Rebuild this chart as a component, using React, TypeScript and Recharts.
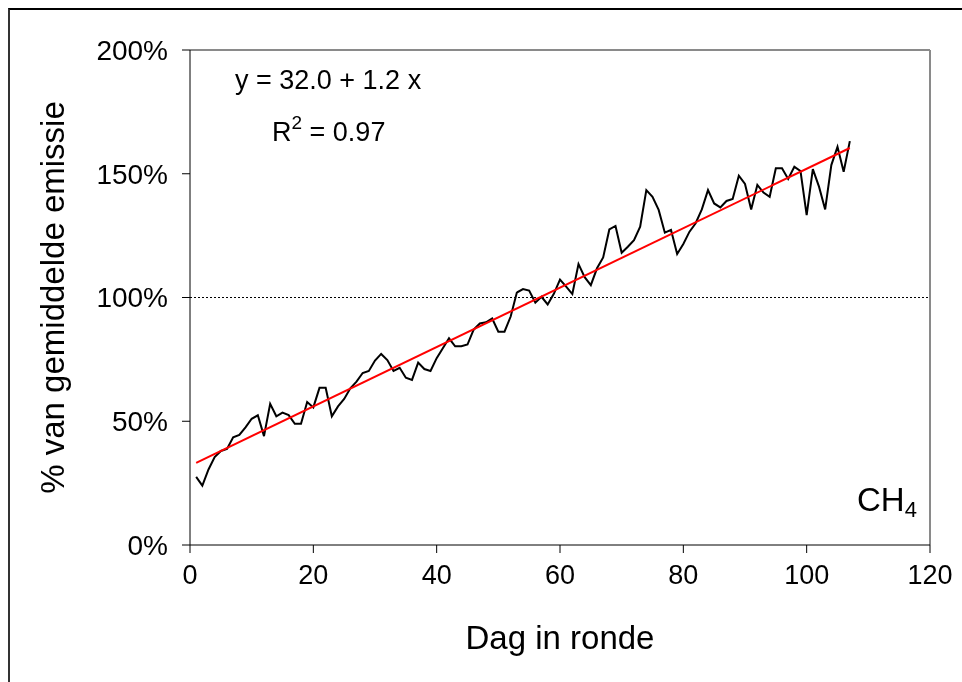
import { LineChart, Line, XAxis, YAxis, ReferenceLine } from "recharts";

const days = Array.from({ length: 107 }, (_, i) => i + 1);

const emission = [
  27.5, 24, 30.5, 35.5, 38, 38.8, 43.5, 44.5, 47.5, 51,
  52.4, 44, 57, 52, 53.5, 52.5, 49, 49, 57.8, 55.6,
  63.5, 63.5, 52, 56, 59, 63.3, 66, 69.5, 70.3, 74.5,
  77.2, 74.7, 70.3, 71.6, 67.6, 66.7, 73.7, 71.1, 70.3, 75.5,
  79.5, 83.5, 80.3, 80.3, 81, 87, 89.5, 90, 91.5, 86.2,
  86.2, 92.3, 102, 103.4, 102.8, 97.9, 100.3, 97.2, 101.5, 107.2,
  104.4, 101.4, 113.5, 108.2, 105, 111.8, 116.2, 127.5, 128.9, 118.1,
  120.5, 123.2, 128.6, 143.4, 140.7, 135.4, 126.2, 127.3, 117.6, 121.6,
  126.6, 130, 135.6, 143.4, 138, 136.4, 139, 139.8, 149.2, 145.9,
  135.6, 145.5, 142.4, 140.7, 152.2, 152.2, 147.9, 152.8, 151.1, 133.3,
  151.9, 144.8, 135.6, 153.5, 160.9, 150.8, 163.2,
];

// trend line end points (y = 32.0 + 1.2 x)
const fitDays = [1, 107];
const fitValues = [33.2, 160.4];

const xTicks = [0, 20, 40, 60, 80, 100, 120];
const yTicks = [0, 50, 100, 150, 200];

const rows = days.map((d, i) => {
  const k = fitDays.indexOf(d);
  return { day: d, emission: emission[i], fit: k >= 0 ? fitValues[k] : null };
});

const font = "'Liberation Sans', Arial, sans-serif";

export default function App() {
  return (
    <div style={{ position: "relative", width: 954, height: 666, fontFamily: font }}>
      {/* outer frame, fixed so it does not make the page scroll */}
      <div
        style={{
          position: "fixed",
          left: 8,
          top: 8,
          width: 960,
          height: 680,
          boxSizing: "border-box",
          borderTop: "2px solid #000",
          borderLeft: "2px solid #333",
        }}
      />
      <div style={{ position: "absolute", left: 0, top: 0 }}>
        <LineChart
          width={954}
          height={666}
          data={rows}
          margin={{ top: 42, right: 32, bottom: 0, left: 0 }}
        >
          <XAxis
            dataKey="day"
            type="number"
            domain={[0, 120]}
            ticks={xTicks}
            height={129}
            stroke="#000"
            tickSize={8}
            tickMargin={12}
            tick={{ fill: "#000", fontSize: 27, fontFamily: font }}
            label={{
              value: "Dag in ronde",
              position: "insideBottom",
              offset: 25,
              fill: "#000",
              fontSize: 33,
              fontFamily: font,
            }}
          />
          <YAxis
            type="number"
            domain={[0, 200]}
            ticks={yTicks}
            width={182}
            stroke="#000"
            tickSize={8}
            tickMargin={14}
            tickFormatter={(v) => `${v}%`}
            tick={{ fill: "#000", fontSize: 28, fontFamily: font }}
            label={{
              value: "% van gemiddelde emissie",
              angle: -90,
              position: "insideLeft",
              offset: 44,
              textAnchor: "middle",
              fill: "#000",
              fontSize: 33,
              fontFamily: font,
            }}
          />
          <ReferenceLine y={200} stroke="#8a8a8a" strokeWidth={2} />
          <ReferenceLine x={120} stroke="#8a8a8a" strokeWidth={2} />
          <ReferenceLine y={100} stroke="#000" strokeDasharray="2 2" />
          <Line
            dataKey="emission"
            stroke="#000"
            strokeWidth={2}
            dot={false}
            isAnimationActive={false}
          />
          <Line
            dataKey="fit"
            stroke="#ff0000"
            strokeWidth={2}
            dot={false}
            connectNulls
            isAnimationActive={false}
          />
        </LineChart>
      </div>
      <div style={{ position: "absolute", left: 227, top: 59, fontSize: 27, lineHeight: "27px", whiteSpace: "nowrap" }}>
        y = 32.0 + 1.2 x
      </div>
      <div style={{ position: "absolute", left: 264, top: 101, fontSize: 27, lineHeight: "27px", whiteSpace: "nowrap" }}>
        R<sup style={{ fontSize: 19, verticalAlign: "12px" }}>2</sup> = 0.97
      </div>
      <div style={{ position: "absolute", left: 849, top: 475, fontSize: 33, lineHeight: "33px", whiteSpace: "nowrap" }}>
        CH<sub style={{ fontSize: 22, verticalAlign: "-6px" }}>4</sub>
      </div>
    </div>
  );
}
